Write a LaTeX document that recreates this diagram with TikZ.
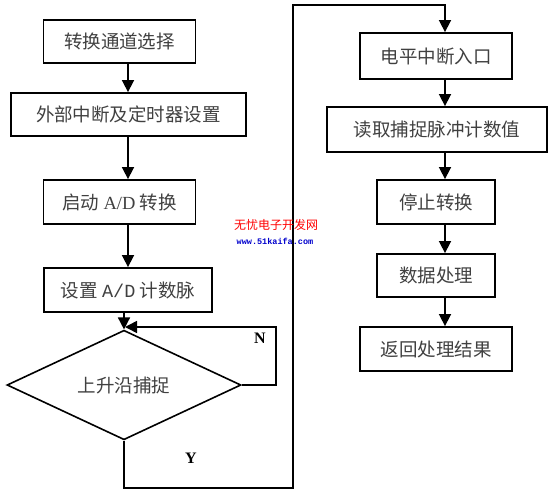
\documentclass[tikz,border=0pt]{standalone}
\usepackage{fontspec}
\setmainfont{Liberation Serif}
\newfontfamily\cjk{Noto Sans CJK SC}
\newfontfamily\monofnt{Liberation Mono}
\usetikzlibrary{shapes.geometric,arrows.meta}
\begin{document}
\begin{tikzpicture}[x=1pt,y=-1pt,
  box/.style={draw,line width=1.8pt,rectangle,inner sep=0pt,font=\fontsize{18.5}{22}\cjk,text=black!75},
  dia/.style={draw,line width=1.6pt,diamond,inner sep=0pt,minimum width=234pt,minimum height=86pt,font=\fontsize{18.5}{22}\cjk,text=black!75},
  conn/.style={line width=1.6pt},
  arr/.style={conn,-{Triangle[length=12pt,width=12pt]}},
  lbl/.style={font=\fontsize{16}{18}\selectfont\bfseries}]
\useasboundingbox (0,0) rectangle (550,499);
\coordinate (colL) at (128,0);
\coordinate (colR) at (445,0);
% left column
\node[box,minimum width=152pt,minimum height=43pt] (b1) at (119.5,41.5) {转换通道选择};
\node[box,minimum width=235pt,minimum height=43pt] (b2) at (128.5,114.5) {外部中断及定时器设置};
\node[box,minimum width=152pt,minimum height=44pt] (b3) at (119.5,202) {启动 {\rmfamily A/D} 转换};
\node[box,minimum width=168pt,minimum height=44pt] (b4) at (128,290) {设置 {\monofnt A/D} 计数脉};
\node[dia] (d) at (124,385) {上升沿捕捉};
% right column
\node[box,minimum width=152pt,minimum height=46pt] (r1) at (436,56) {电平中断入口};
\node[box,minimum width=220pt,minimum height=45pt] (r2) at (437,129.5) {读取捕捉脉冲计数值};
\node[box,minimum width=118pt,minimum height=44pt] (r3) at (436,202) {停止转换};
\node[box,minimum width=118pt,minimum height=43pt] (r4) at (436,275.5) {数据处理};
\node[box,minimum width=152pt,minimum height=44pt] (r5) at (436,349) {返回处理结果};
% coordinates of the loop paths
\coordinate (m) at (125,327);
\coordinate (nr) at (276,327);
\coordinate (y1) at (124,488);
\coordinate (y2) at (293,488);
\coordinate (y3) at (293,5);
\coordinate (y4) at (445,5);
% connectors
\draw[arr] (b1.south -| colL) -- (b2.north -| colL);
\draw[arr] (b2.south -| colL) -- (b3.north -| colL);
\draw[arr] (b3.south -| colL) -- (b4.north -| colL);
\draw[arr] (b4.south -| d.north) -- (d.north);
\draw[arr] (d.east) -| (nr) -- (m);
\draw[arr] (d.south) -- (y1) -- (y2) -- (y3) -- (y4) -- (r1.north -| colR);
\draw[arr] (r1.south -| colR) -- (r2.north -| colR);
\draw[arr] (r2.south -| colR) -- (r3.north -| colR);
\draw[arr] (r3.south -| colR) -- (r4.north -| colR);
\draw[arr] (r4.south -| colR) -- (r5.north -| colR);
% labels
\node[lbl] (ln) at (260,338) {N};
\node[lbl] (ly) at (191,458) {Y};
% watermark
\node[font=\fontsize{12}{14}\cjk,text=red] (w1) at (276,225) {无忧电子开发网};
\node[font=\fontsize{8.5}{10}\monofnt\bfseries,text=blue!80!black] (w2) at (275,241) {www.51kaifa.com};
\end{tikzpicture}
\end{document}
